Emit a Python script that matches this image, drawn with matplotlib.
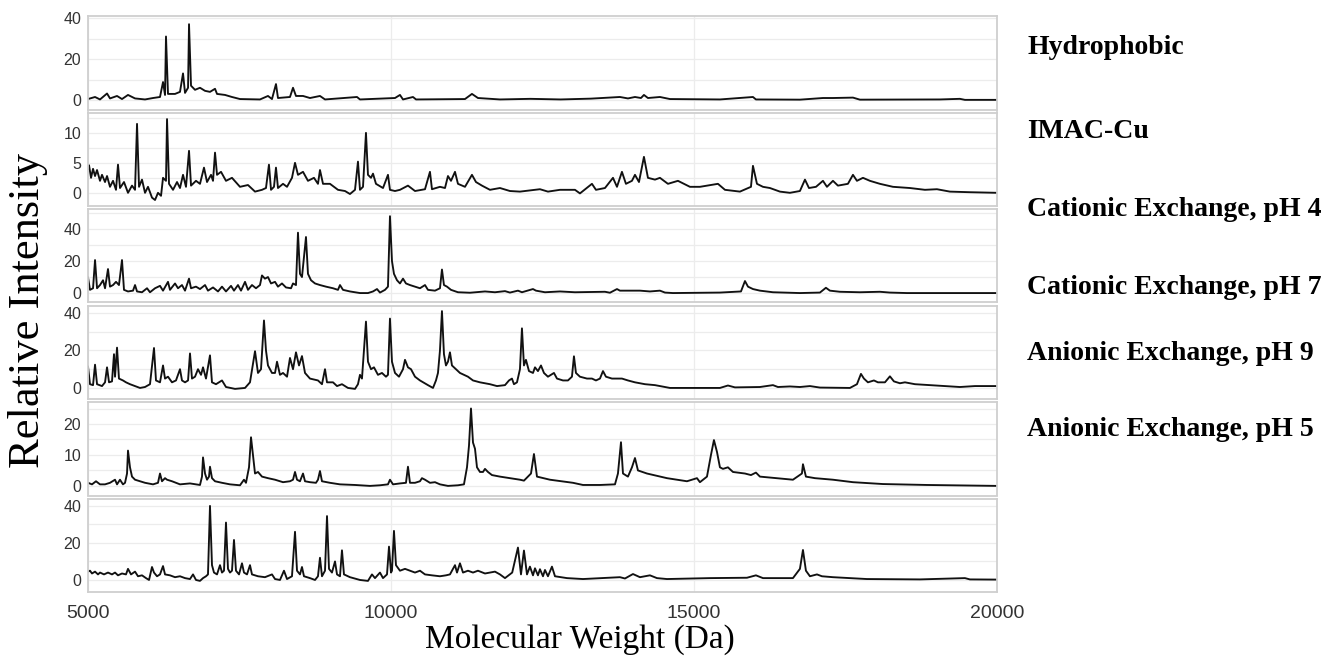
import matplotlib
matplotlib.use("Agg")
import matplotlib.pyplot as plt
from matplotlib.ticker import MultipleLocator

plt.rcParams['font.family'] = ['Liberation Sans', 'DejaVu Sans']

# spectra: (molecular weight in Da, relative intensity)
hydrophobic = [
    (5000, 0.5), (5116, 1.5), (5198, 0.3), (5314, 3.2), (5363, 0.8), (5479, 2), (5561, 0.5),
    (5660, 2.5), (5776, 0.8), (5941, 0.3), (6073, 1), (6188, 1.5), (6238, 8.8), (6271, 2.5),
    (6287, 31), (6320, 3), (6436, 3), (6518, 4), (6568, 13), (6601, 3.5), (6651, 6), (6667, 37),
    (6700, 7), (6766, 5), (6848, 6), (6931, 4.5), (7013, 4), (7096, 5.5), (7129, 3), (7261, 2.5),
    (7376, 1.5), (7508, 0.5), (7838, 0.3), (7970, 2), (8036, 0.5), (8102, 7.8), (8135, 1),
    (8333, 1.5), (8383, 6), (8432, 2), (8548, 2), (8663, 1), (8828, 2), (8911, 0.3), (9439, 1.5),
    (9488, 0.3), (10066, 1), (10148, 2.5), (10198, 0.3), (10363, 1.5), (10413, 0.3), (11221, 0.5),
    (11336, 3), (11435, 1), (11798, 0.3), (12300, 0.6), (12800, 0.3), (13300, 0.7), (13778, 1.5),
    (13910, 0.8), (14026, 1.5), (14125, 1), (14174, 2.5), (14240, 1), (14438, 1.5), (14603, 0.5),
    (15428, 0.3), (15973, 1.5), (16022, 0.3), (16748, 0.2), (17128, 1), (17293, 1), (17623, 1.2),
    (17738, 0.2), (19058, 0.3), (19388, 0.6), (19471, 0.1), (20000, 0.1),
]

imac_cu = [
    (5000, 4), (5017, 4.6), (5050, 2.5), (5083, 4), (5116, 2.8), (5149, 3.8), (5198, 2), (5231, 3),
    (5281, 1.8), (5314, 2.8), (5363, 1), (5413, 2), (5462, 0.5), (5495, 4.7), (5528, 0.8),
    (5594, 1.8), (5660, 0), (5726, 1.2), (5776, 0.5), (5809, 11.5), (5842, 1), (5891, 2.2),
    (5941, 0), (5990, 1), (6056, -0.8), (6106, -1.2), (6155, 0), (6205, -0.5), (6238, 2.5),
    (6287, 2), (6304, 12.3), (6337, 1.5), (6403, 0.5), (6469, 1.8), (6518, 0.8), (6568, 3),
    (6617, 1), (6667, 7), (6700, 1.2), (6782, 2), (6848, 1.5), (6914, 4.2), (6964, 1.8), (7030, 3),
    (7063, 2), (7096, 6.7), (7129, 3), (7195, 3.5), (7277, 2), (7376, 2.5), (7508, 1), (7640, 1.3),
    (7756, 0.2), (7871, 0.5), (7937, 0.8), (7986, 4.7), (8020, 0.5), (8069, 1), (8102, 4.2),
    (8135, 0.8), (8218, 1.5), (8284, 1), (8366, 2.5), (8416, 5), (8465, 3), (8548, 3.5), (8630, 2),
    (8729, 2.5), (8795, 1.5), (8828, 3.8), (8878, 1.5), (8993, 1.5), (9125, 0.5), (9241, 0.3),
    (9323, -0.2), (9406, 0.5), (9455, 5.2), (9488, 0.5), (9538, 1), (9587, 10), (9620, 3),
    (9670, 2.5), (9703, 3.2), (9752, 1.5), (9868, 0.8), (9950, 3), (9983, 0.5), (10066, 0.3),
    (10148, 0.5), (10280, 1.2), (10396, 0.3), (10561, 0.6), (10643, 3.5), (10676, 0.6), (10808, 1),
    (10891, 0.8), (10940, 2.8), (10990, 2), (11056, 3.5), (11105, 1.5), (11221, 1), (11336, 3),
    (11402, 1.8), (11501, 1.2), (11633, 0.5), (11798, 0.8), (11963, 0.3), (12128, 0.2),
    (12458, 0.6), (12590, 0.2), (12788, 0.5), (13036, 0.5), (13118, -0.1), (13316, 1.5),
    (13382, 0.5), (13531, 0.8), (13663, 2.5), (13729, 1), (13811, 3.5), (13877, 1.5), (13976, 2),
    (14026, 3), (14092, 1.8), (14174, 6), (14240, 2.5), (14356, 2.2), (14438, 2.5), (14570, 1.5),
    (14735, 2), (14933, 1), (15098, 1), (15395, 1.5), (15511, 0.5), (15758, 0.2), (15940, 1),
    (15973, 4.5), (16039, 1.5), (16138, 1), (16253, 0.8), (16418, 0.2), (16583, 0), (16748, 0.3),
    (16831, 2.2), (16897, 0.8), (17013, 1), (17128, 2), (17194, 1), (17293, 2), (17375, 1.2),
    (17540, 1.5), (17623, 3), (17689, 2), (17788, 2.5), (17903, 2), (18068, 1.5), (18283, 1),
    (18563, 0.8), (18811, 0.5), (19009, 0.6), (19223, 0.2), (19553, 0.1), (20000, 0),
]

cation_ph4 = [
    (5000, 9.8), (5033, 2), (5083, 3), (5116, 20.6), (5149, 3), (5198, 5), (5248, 8), (5281, 3),
    (5330, 15), (5363, 4), (5413, 5), (5462, 7), (5511, 5), (5561, 20.6), (5594, 2), (5660, 1),
    (5743, 1.5), (5776, 5), (5809, 1), (5891, 0.5), (5974, 3), (6023, 0.5), (6106, 3), (6188, 4.5),
    (6238, 1.5), (6320, 7), (6353, 2), (6436, 6), (6485, 3), (6551, 5), (6601, 1.5), (6667, 9),
    (6700, 3), (6782, 4), (6848, 2.5), (6931, 5), (6980, 1.5), (7063, 3.5), (7145, 1), (7211, 4),
    (7277, 1), (7360, 4.5), (7409, 1.5), (7475, 5), (7525, 1.5), (7591, 7), (7640, 2), (7706, 5),
    (7772, 3), (7838, 5), (7871, 11), (7920, 9), (7970, 10), (8020, 6), (8086, 7), (8135, 4),
    (8201, 6), (8267, 3.5), (8350, 3), (8383, 6), (8432, 5), (8465, 37.7), (8498, 12), (8531, 10),
    (8597, 35), (8630, 12), (8680, 8), (8746, 6), (8828, 5), (8927, 4), (9043, 3), (9125, 2),
    (9158, 5), (9208, 2), (9323, 1), (9488, 0), (9620, 0), (9703, 1), (9769, 2.5), (9818, 0.3),
    (9901, 2), (9950, 4), (9983, 48), (10016, 20), (10049, 12), (10099, 8), (10148, 6), (10198, 9),
    (10247, 6), (10313, 5), (10396, 4), (10478, 3), (10561, 5), (10610, 2), (10726, 1.5),
    (10808, 3), (10841, 14.7), (10874, 5), (10924, 4), (10990, 2), (11105, 0.5), (11303, 0.2),
    (11551, 1), (11716, 0.5), (11881, 1.2), (11963, 0.3), (12095, 1.5), (12161, 0.5), (12343, 2.5),
    (12392, 1.5), (12541, 0.5), (12788, 1), (13036, 0.5), (13531, 0.8), (13613, 0.2), (13729, 2.5),
    (13778, 1.5), (13943, 1.5), (14108, 1.5), (14273, 1), (14438, 1.5), (14521, 0.3), (14653, 0),
    (15098, 0.2), (15428, 0.3), (15775, 1), (15841, 7.5), (15891, 4), (15973, 2.5), (16088, 1.5),
    (16303, 0.5), (16748, 0), (17078, 0.3), (17177, 3.3), (17243, 1.5), (17408, 0.8), (17738, 0.5),
    (18068, 0.8), (18233, 0.3), (18514, 0), (20000, 0),
]

cation_ph7 = [
    (5000, 11.4), (5033, 2), (5083, 1.5), (5116, 12.4), (5149, 2), (5231, 1), (5281, 3), (5314, 11),
    (5347, 3), (5396, 3.5), (5429, 18), (5446, 6), (5479, 21.5), (5511, 5), (5577, 4), (5627, 3),
    (5693, 2), (5776, 1), (5858, 0), (5941, 0.5), (6023, 2), (6089, 21.3), (6122, 4), (6188, 3),
    (6238, 12), (6271, 5), (6320, 6), (6386, 3), (6452, 4), (6518, 10), (6551, 4), (6601, 3),
    (6651, 4), (6683, 18.4), (6716, 5), (6766, 6), (6815, 10), (6865, 7), (6898, 11), (6947, 5),
    (7013, 17.4), (7046, 3), (7112, 2), (7211, 4), (7277, 0.5), (7426, -0.5), (7591, 0), (7673, 3),
    (7756, 19.6), (7805, 8), (7855, 10), (7904, 36), (7937, 20), (7970, 12), (8036, 8), (8086, 8),
    (8119, 14), (8168, 7), (8218, 8), (8284, 6), (8333, 16), (8383, 10), (8432, 19), (8482, 12),
    (8531, 17), (8581, 8), (8663, 5), (8795, 4), (8861, 2), (8911, 10), (8944, 3), (9043, 3),
    (9109, 1), (9191, 2), (9290, 0), (9406, -0.5), (9455, 2), (9488, 7), (9521, 5), (9587, 35.4),
    (9620, 14), (9670, 10), (9719, 11), (9785, 7), (9851, 8), (9917, 6), (9950, 7), (9983, 37),
    (10016, 14), (10066, 8), (10132, 6), (10198, 10), (10231, 15), (10280, 11), (10330, 10),
    (10396, 6), (10478, 4), (10610, 1.5), (10693, 0), (10742, 4), (10775, 8), (10808, 20),
    (10841, 41), (10874, 18), (10907, 12), (10940, 14), (10973, 19), (11006, 12), (11072, 10),
    (11138, 8), (11204, 7), (11270, 6), (11353, 4), (11468, 3), (11633, 2), (11749, 1), (11881, 1.5),
    (11947, 4), (11996, 5), (12029, 2), (12079, 3), (12128, 10), (12161, 31.8), (12194, 12),
    (12227, 15), (12277, 9), (12343, 8), (12376, 11), (12425, 9), (12475, 12), (12524, 8),
    (12590, 6), (12689, 8), (12739, 5), (12838, 4), (12920, 4), (12986, 6), (13019, 16.9),
    (13052, 8), (13118, 6), (13234, 5), (13316, 5), (13382, 4), (13448, 5), (13498, 9), (13547, 6),
    (13646, 5), (13745, 5), (13811, 5), (13910, 4), (14026, 3), (14191, 2), (14356, 1.5), (14603, 0),
    (15098, 0), (15428, 0), (15560, 1.3), (15676, 0.3), (16088, 0.5), (16303, 1.5), (16385, 0.5),
    (16583, 0.8), (16748, 0.5), (16913, 1), (17078, 0.2), (17573, 0), (17689, 2), (17755, 7.5),
    (17804, 5), (17870, 3), (17969, 4), (18035, 3), (18151, 3), (18233, 6.2), (18299, 3.5),
    (18398, 2.5), (18481, 3), (18646, 2), (18894, 1.5), (19141, 1), (19388, 0.5), (19636, 1),
    (20000, 1),
]

anion_ph9 = [
    (5000, 1), (5066, 0.5), (5132, 1.5), (5198, 0.5), (5281, 0.5), (5363, 1), (5446, 2), (5479, 0.5),
    (5528, 2), (5577, 0.5), (5611, 1), (5644, 4), (5660, 11.4), (5693, 6), (5726, 3), (5776, 2),
    (5858, 1.5), (5941, 1), (6073, 0.5), (6155, 1), (6188, 4), (6221, 1.5), (6271, 2.5), (6304, 2),
    (6386, 1.5), (6518, 0.5), (6683, 0.8), (6848, 0.3), (6881, 3), (6898, 9.2), (6931, 4),
    (6964, 2), (6997, 3), (7013, 6.2), (7046, 2.5), (7096, 1.5), (7211, 1), (7343, 0.5), (7508, 0.2),
    (7574, 2), (7607, 1), (7657, 6), (7690, 15.7), (7723, 10), (7756, 4), (7805, 4.5), (7871, 3),
    (7970, 2.5), (8086, 2), (8218, 1.2), (8333, 1.5), (8383, 2), (8416, 4.5), (8449, 2), (8498, 1.5),
    (8548, 4), (8581, 1.5), (8663, 1.2), (8762, 1), (8795, 2), (8828, 4.8), (8861, 1.5), (8993, 1),
    (9158, 0.5), (9406, 0.3), (9653, 0), (9818, 0.2), (9950, 0.5), (9983, 2), (10033, 0.5),
    (10148, 0.8), (10247, 1), (10280, 6.2), (10313, 1), (10396, 1), (10478, 1.5), (10511, 2.5),
    (10561, 2), (10643, 1), (10726, 1.2), (10808, 0.5), (10940, 0), (11105, 0.2), (11204, 0.5),
    (11254, 6), (11287, 13), (11320, 25), (11353, 14), (11386, 12), (11419, 6), (11468, 4.5),
    (11518, 4.5), (11551, 5.5), (11600, 4.5), (11666, 3.5), (11798, 3), (11963, 2.5), (12128, 2),
    (12194, 1.7), (12310, 4), (12359, 10.3), (12409, 3), (12623, 2), (13003, 1), (13168, 0.3),
    (13448, 0.3), (13696, 0.5), (13745, 4), (13795, 14.1), (13828, 4), (13910, 3), (13976, 6),
    (14026, 9), (14075, 5), (14224, 4), (14554, 2.5), (14884, 1.5), (15049, 2.5), (15098, 1.2),
    (15214, 3), (15280, 10), (15329, 14.8), (15379, 11), (15428, 6), (15478, 5.5), (15560, 6),
    (15643, 4.5), (15841, 4), (15940, 3.5), (16022, 4.3), (16088, 3), (16633, 2), (16781, 4),
    (16798, 7), (16847, 3), (16996, 2.5), (17293, 2), (17623, 1.2), (18118, 0.6), (18844, 0.3),
    (20000, 0),
]

anion_ph5 = [
    (5000, 4.5), (5033, 5), (5066, 3.5), (5116, 4.5), (5165, 3), (5198, 4), (5264, 3), (5330, 4),
    (5396, 3), (5446, 4), (5495, 2.5), (5561, 3.5), (5627, 3), (5660, 6), (5710, 3), (5776, 4.5),
    (5825, 2), (5891, 2.5), (5957, 1), (6007, 0), (6056, 7), (6089, 4), (6139, 2), (6188, 3),
    (6238, 7.5), (6271, 3), (6353, 2.5), (6436, 1.5), (6518, 2), (6601, 1), (6683, 0.5), (6733, 3),
    (6782, 0), (6848, -0.5), (6898, 1), (6947, 2), (6980, 3), (7013, 40), (7046, 8), (7079, 4),
    (7129, 3), (7178, 8), (7211, 4), (7244, 5), (7277, 31), (7310, 6), (7343, 4), (7376, 5),
    (7409, 21.6), (7442, 5), (7492, 3), (7541, 9), (7574, 4), (7624, 3), (7673, 8), (7706, 3),
    (7805, 2), (7920, 1.5), (8036, 3), (8086, 0.5), (8168, 0), (8234, 5), (8284, 0.5), (8366, 2),
    (8416, 26), (8449, 5), (8498, 3), (8531, 7), (8564, 2), (8663, 1), (8746, 0), (8795, 2),
    (8828, 12), (8861, 2), (8911, 5), (8944, 34.5), (8977, 6), (9026, 4), (9076, 10), (9109, 3),
    (9158, 2), (9191, 16), (9224, 3), (9323, 1.5), (9488, 0), (9620, -0.5), (9686, 3), (9736, 1),
    (9818, 4), (9868, 1), (9934, 3), (9967, 18), (10000, 4), (10016, 5), (10049, 26.5), (10082, 8),
    (10148, 5), (10231, 6), (10313, 5), (10396, 4), (10478, 5), (10561, 3), (10676, 2.5),
    (10808, 2), (10907, 2.5), (10973, 3), (11056, 8), (11089, 4), (11138, 9), (11188, 4),
    (11270, 5), (11353, 4), (11435, 5), (11551, 3.5), (11633, 4), (11716, 4.5), (11798, 3),
    (11881, 1), (12000, 4), (12095, 17.5), (12145, 3), (12194, 15.9), (12244, 3), (12293, 7.2),
    (12343, 2.5), (12376, 6.3), (12425, 2.5), (12458, 5.8), (12508, 2), (12541, 5.4), (12590, 2),
    (12656, 7.2), (12706, 2), (12904, 1), (13168, 0.5), (13778, 1.5), (13861, 0.8), (13993, 3.2),
    (14108, 1.5), (14273, 2.5), (14389, 1), (14554, 0.5), (15263, 1), (15874, 1.2), (16022, 2.5),
    (16138, 1), (16633, 1), (16748, 6), (16798, 16.2), (16847, 5), (16913, 2), (17029, 3),
    (17111, 2), (17293, 1.5), (17854, 0.5), (18728, 0.3), (19471, 1), (19553, 0.3), (20000, 0.2),
]

spectra = [hydrophobic, imac_cu, cation_ph4, cation_ph7, anion_ph9, anion_ph5]
names = ["Hydrophobic", "IMAC-Cu", "Cationic Exchange, pH 4", "Cationic Exchange, pH 7",
         "Anionic Exchange, pH 9", "Anionic Exchange, pH 5"]
y_limits = [(-4.6, 41), (-2.2, 13.4), (-5.9, 52.5), (-5.9, 44), (-3.1, 27.1), (-6.5, 44)]
y_ticks = [[0, 20, 40], [0, 5, 10], [0, 20, 40], [0, 20, 40], [0, 10, 20], [0, 20, 40]]
x_ticks = [5000, 10000, 15000, 20000]

W, H = 1325, 660
fig = plt.figure(figsize=(W / 100, H / 100), dpi=100)

left_px, right_px = 88, 997
panel_top = [16, 112.5, 209, 305.5, 402, 498.5]
panel_h = 93.5
name_y = [48, 132, 210, 287, 354, 429]

for i, spec in enumerate(spectra):
    ax = fig.add_axes([left_px / W, 1 - (panel_top[i] + panel_h) / H,
                       (right_px - left_px) / W, panel_h / H])
    mw = [p[0] for p in spec]
    inten = [p[1] for p in spec]
    ax.plot(mw, inten, color='#111111', lw=1.35, solid_joinstyle='round')
    ax.set_xlim(5000, 20000)
    ax.set_ylim(*y_limits[i])
    ax.set_yticks(y_ticks[i])
    ax.yaxis.set_minor_locator(MultipleLocator(y_ticks[i][1] / 2))
    ax.set_xticks(x_ticks)
    ax.grid(which='both', color='#ececec', lw=0.9)
    ax.set_axisbelow(True)
    ax.tick_params(which='both', length=0, labelsize=11.5, colors='#333333', pad=5)
    for s in ax.spines.values():
        s.set_color('#cfcfcf')
        s.set_linewidth(1.3)
    if i < len(spectra) - 1:
        ax.tick_params(labelbottom=False)
    else:
        ax.tick_params(axis='x', labelsize=14, pad=9)
    fig.text(1027 / W, 1 - name_y[i] / H, names[i], family='Liberation Serif',
             fontweight='bold', fontsize=20, va='center', ha='left')

fig.text(28 / W, 1 - 310 / H, 'Relative Intensity', family='Liberation Serif',
         fontsize=32, rotation=90, va='center', ha='center')
fig.text(580 / W, 1 - 640 / H, 'Molecular Weight (Da)', family='Liberation Serif',
         fontsize=24, va='center', ha='center')

fig.savefig('out.png', dpi=100)
